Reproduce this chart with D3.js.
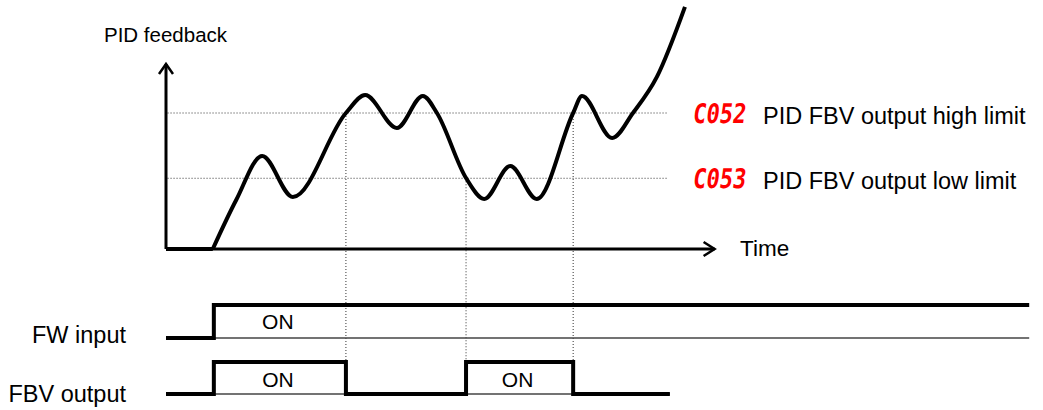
<!DOCTYPE html>
<html><head><meta charset="utf-8">
<script src="https://cdn.jsdelivr.net/npm/d3@7"></script>
<style>
html,body{margin:0;padding:0;background:#fff;}
svg{display:block;font-family:"Liberation Sans",Arial,sans-serif;}
</style></head>
<body><svg id="c" width="1043" height="410"></svg>
<script>
// ---- data ----
const curveTime  = [9.0, 13.5, 18.5, 24.4, 34.6, 38.3, 44.4, 49.4, 52.1, 57.7, 61.2, 66.2, 71.3, 78.3, 80.0, 85.8, 89.8, 94.4, 99.8];
const curveValue = [0,   36,   68.4, 38.2, 100,  113.2, 89,  112.5, 100, 52.2, 36.8, 61,   36.8, 100,  112.5, 81.6, 100, 126.5, 178];
const startTime = [0, 9.0];
const limitCodes  = ["C052", "C053"];
const limitLabels = ["PID FBV output high limit", "PID FBV output low limit"];
const limitValues = [100, 52];
const crossTimes  = [34.6, 57.7, 78.3];
const crossLimits = [100, 52, 100];
const fwTimes  = [0, 9.2, 166];
const fwLevels = [0, 1, 1];
const fbvTimes  = [0, 9.2, 34.6, 57.7, 78.3, 96.9];
const fbvLevels = [0, 1, 0, 1, 0, 0];
const onLabelsFW  = [{t: 21.5}];
const onLabelsFBV = [{t0: 9.2, t1: 34.6}, {t0: 57.7, t1: 78.3}];

// ---- scales ----
const x = d3.scaleLinear().domain([0, 100]).range([166, 686]);
const y = d3.scaleLinear().domain([0, 100]).range([249, 113]);
const fwY  = d3.scaleLinear().domain([0, 1]).range([338, 305]);
const fbvY = d3.scaleLinear().domain([0, 1]).range([394, 362]);
const axisTopValue = 136, axisEndTime = 105.5;

const svg = d3.select("#c");

// dotted limit lines
svg.selectAll(".lim").data(limitValues).enter().append("line")
  .attr("x1", x(0.3)).attr("x2", x(96.5))
  .attr("y1", d => y(d)).attr("y2", d => y(d))
  .attr("stroke", "#333").attr("stroke-width", 1).attr("stroke-dasharray", "1,2");

// vertical dotted lines
svg.selectAll(".vl").data(crossTimes).enter().append("line")
  .attr("x1", d => x(d)).attr("x2", d => x(d))
  .attr("y1", (d, i) => y(crossLimits[i])).attr("y2", fbvY(1))
  .attr("stroke", "#333").attr("stroke-width", 1).attr("stroke-dasharray", "1,2");

// axes
const ax = svg.append("g").attr("stroke", "#000").attr("stroke-width", 3).attr("fill", "none");
ax.append("path").attr("d", `M${x(0)},${y(0)}V${y(axisTopValue)}`);
ax.append("path").attr("d", `M${x(0)},${y(0)}H${x(axisEndTime)}`);
ax.append("path").attr("stroke-width", 2.5).attr("d", `M${x(0)-7},${y(axisTopValue)+10}L${x(0)},${y(axisTopValue)}L${x(0)+7},${y(axisTopValue)+10}`);
ax.append("path").attr("stroke-width", 2.5).attr("d", `M${x(axisEndTime)-11},${y(0)-7}L${x(axisEndTime)},${y(0)}L${x(axisEndTime)-11},${y(0)+7}`);

// feedback curve
svg.append("path")
  .attr("d", d3.line().x(d => x(d)).y(() => y(0))(startTime))
  .attr("stroke", "#000").attr("stroke-width", 4).attr("fill", "none");
svg.append("path")
  .attr("d", d3.line().curve(d3.curveMonotoneX).x(d => x(d[0])).y(d => y(d[1]))(curveTime.map((t, i) => [t, curveValue[i]])))
  .attr("stroke", "#000").attr("stroke-width", 4).attr("fill", "none").attr("stroke-linejoin", "round");

// texts
svg.append("text").attr("x", 104).attr("y", 42).attr("font-size", 20.5).text("PID feedback");
svg.append("text").attr("x", 740).attr("y", 256).attr("font-size", 22.5).text("Time");

limitCodes.forEach((c, i) => {
  const yy = y(limitValues[i]);
  svg.append("text").attr("x", 0).attr("y", 0)
    .attr("transform", `translate(692,${yy + 10}) skewX(-8)`)
    .attr("font-family", "DejaVu Sans Mono").attr("font-weight", "bold")
    .attr("font-size", 27).attr("fill", "#ff0000")
    .attr("textLength", 53).attr("lengthAdjust", "spacingAndGlyphs").text(c);
  svg.append("text").attr("x", 763).attr("y", yy + 11).attr("font-size", 23.5).text(limitLabels[i]);
});

// timing diagrams
svg.append("line").attr("x1", x(9.4)).attr("x2", x(166)).attr("y1", fwY(0)).attr("y2", fwY(0))
  .attr("stroke", "#444").attr("stroke-width", 1.5);
svg.append("line").attr("x1", x(9.4)).attr("x2", x(96.9)).attr("y1", fbvY(0)).attr("y2", fbvY(0))
  .attr("stroke", "#444").attr("stroke-width", 1.5);

const step = sc => d3.line().curve(d3.curveStepAfter).x(d => x(d[0])).y(d => sc(d[1]));
svg.append("path").attr("d", step(fwY)(fwTimes.map((t, i) => [t, fwLevels[i]])))
  .attr("stroke", "#000").attr("stroke-width", 4).attr("fill", "none");
svg.append("path").attr("d", step(fbvY)(fbvTimes.map((t, i) => [t, fbvLevels[i]])))
  .attr("stroke", "#000").attr("stroke-width", 4).attr("fill", "none");

svg.append("text").attr("x", 126).attr("y", 343).attr("font-size", 23.5).attr("text-anchor", "end").text("FW input");
svg.append("text").attr("x", 126).attr("y", 402).attr("font-size", 23.5).attr("text-anchor", "end").text("FBV output");

onLabelsFW.forEach(d => svg.append("text").attr("x", x(d.t)).attr("y", 329).attr("text-anchor", "middle").attr("font-size", 21).text("ON"));
onLabelsFBV.forEach(d => svg.append("text").attr("x", (x(d.t0) + x(d.t1)) / 2 - 2).attr("y", 387).attr("text-anchor", "middle").attr("font-size", 21).text("ON"));
</script></body></html>
